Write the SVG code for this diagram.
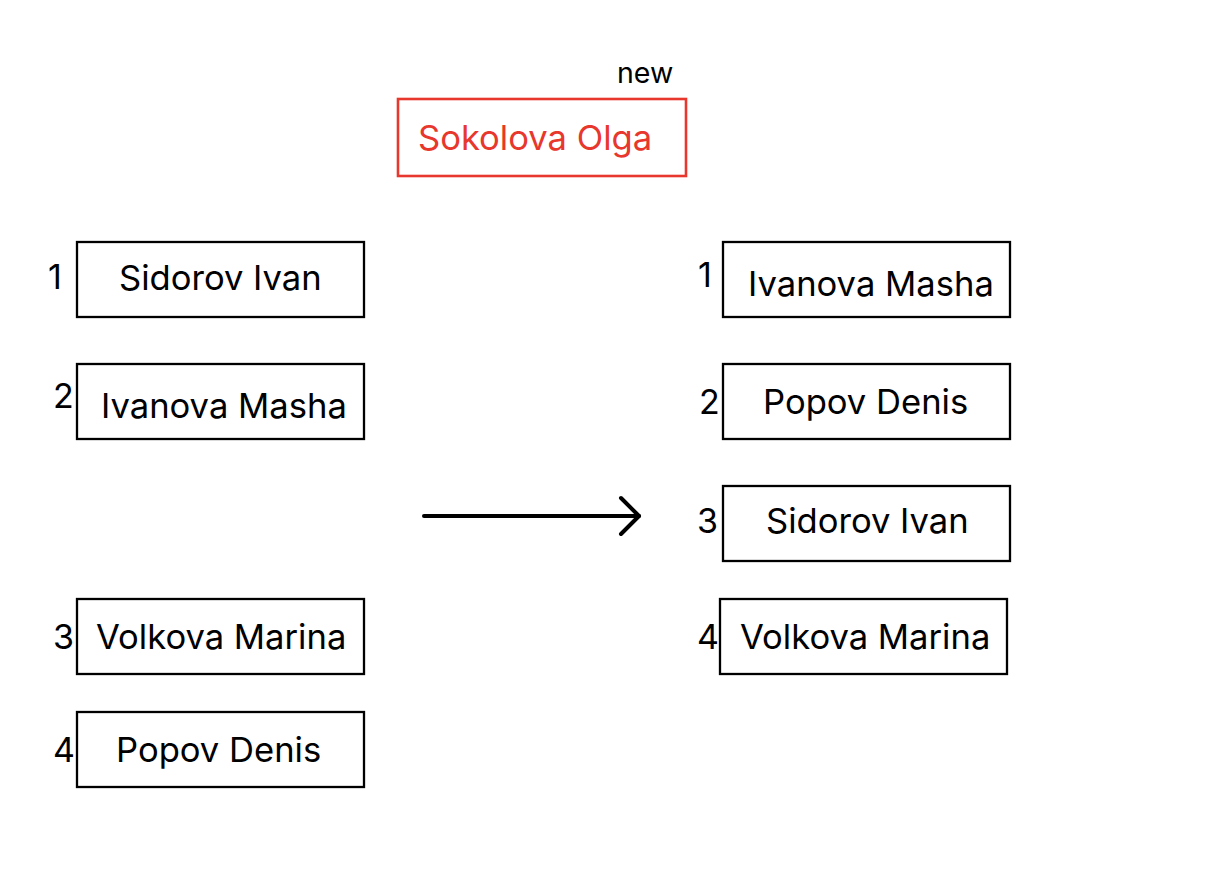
<svg xmlns="http://www.w3.org/2000/svg" width="1216" height="876" viewBox="0 0 1216 876">
<style>
.box{fill:#fff;stroke:#000;stroke-width:2.3}
.red{fill:#fff;stroke:#e8372c;stroke-width:2.6}
.t{font-family:Inter,"Noto Sans",sans-serif;font-size:34.6px;fill:#000}
.tr{font-family:Inter,"Noto Sans",sans-serif;font-size:34.6px;fill:#e8372c}
.n{font-family:Inter,"Noto Sans",sans-serif;font-size:34px;fill:#000}
.s{font-family:Inter,"Noto Sans",sans-serif;font-size:28.5px;fill:#000}
</style>
<rect width="1216" height="876" fill="#fff"/>
<g id="new-label"><text class="s" x="617" y="83">new</text></g>
<g id="sokolova"><rect class="red" x="398" y="99" width="288" height="77"/><text class="tr" x="418" y="150">Sokolova Olga</text></g>
<g id="l1"><rect class="box" x="77" y="242" width="287" height="75"/><text class="n" x="48" y="289">1</text><text class="t" x="119" y="290">Sidorov Ivan</text></g>
<g id="l2"><rect class="box" x="77" y="364" width="287" height="75"/><text class="n" x="53" y="408">2</text><text class="t" x="101" y="418">Ivanova Masha</text></g>
<g id="l3"><rect class="box" x="77" y="599" width="287" height="75"/><text class="n" x="53" y="649">3</text><text class="t" x="96" y="649">Volkova Marina</text></g>
<g id="l4"><rect class="box" x="77" y="712" width="287" height="75"/><text class="n" x="53" y="762">4</text><text class="t" x="116" y="762">Popov Denis</text></g>
<g id="r1"><rect class="box" x="723" y="242" width="287" height="75"/><text class="n" x="698" y="287">1</text><text class="t" x="748" y="296">Ivanova Masha</text></g>
<g id="r2"><rect class="box" x="723" y="364" width="287" height="75"/><text class="n" x="699" y="414">2</text><text class="t" x="763" y="414">Popov Denis</text></g>
<g id="r3"><rect class="box" x="723" y="486" width="287" height="75"/><text class="n" x="697" y="533">3</text><text class="t" x="766" y="533">Sidorov Ivan</text></g>
<g id="r4"><rect class="box" x="720" y="599" width="287" height="75"/><text class="n" x="697" y="649">4</text><text class="t" x="740" y="649">Volkova Marina</text></g>
<g id="connectors" fill="none" stroke="#000" stroke-width="4" stroke-linecap="round" stroke-linejoin="round">
<path d="M424 516 H639"/>
<path d="M621 498 L639 516 L621 534"/>
</g>
</svg>
